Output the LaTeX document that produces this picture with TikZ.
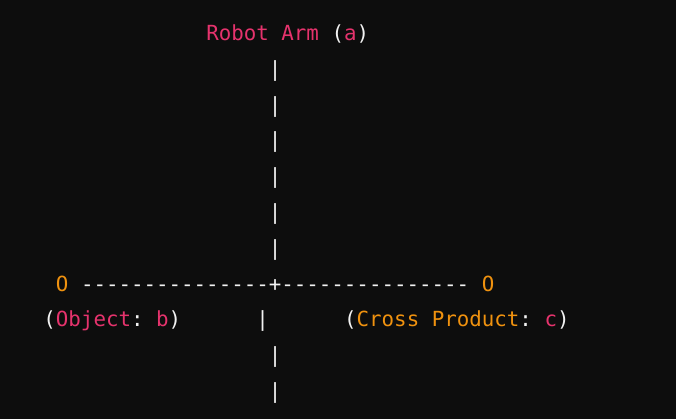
\documentclass[tikz,border=0pt]{standalone}
\usepackage{fontspec}
\newfontfamily\codefont{DejaVu Sans Mono}[Ligatures=TeXOff]
\definecolor{bg}{HTML}{0D0D0D}
\definecolor{pk}{HTML}{E6336D}
\definecolor{og}{HTML}{F0920F}
\definecolor{wt}{HTML}{F2F2F2}
\def\cx#1{268.7+12.53*(#1)}
\def\ry#1{291+(#1-7)*35.8}
\frenchspacing
\begin{document}
\begin{tikzpicture}[x=0.75pt,y=-0.75pt,
  txt/.style={anchor=base west, inner sep=0pt, font=\codefont\fontsize{15.6}{20}\selectfont\frenchspacing, text=wt}]
\fill[bg] (0,0) rectangle (676,419);
\useasboundingbox (0,0) rectangle (676,419);
% row 0
\node[txt] (title) at ({\cx{-5}},{\ry{0}}) {\textcolor{pk}{Robot Arm} (\textcolor{pk}{a})};
% vertical bars above
\foreach \r in {1,...,6}
  \node[txt] (bar\r) at ({\cx{0}},{\ry{\r}}) {|};
% row 7
\node[txt] (oleft) at ({\cx{-17}},{\ry{7}}) {\textcolor{og}{O}};
\node[txt] (axis) at ({\cx{-15}},{\ry{7}}) {---------------+---------------};
\node[txt] (oright) at ({\cx{17}},{\ry{7}}) {\textcolor{og}{O}};
% row 8
\node[txt] (object) at ({\cx{-18}},{\ry{8}}) {(\textcolor{pk}{Object}: \textcolor{pk}{b})};
\node[txt] (bar8) at ({\cx{-1}},{\ry{8}}) {|};
\node[txt] (cross) at ({\cx{6}},{\ry{8}}) {(\textcolor{og}{Cross Product}: \textcolor{pk}{c})};
% vertical bars below
\foreach \r in {9,10}
  \node[txt] (bar\r) at ({\cx{0}},{\ry{\r}}) {|};
\end{tikzpicture}
\end{document}
